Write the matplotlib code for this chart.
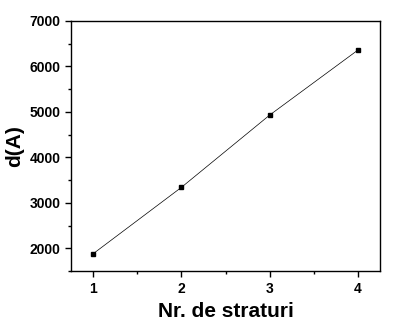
import matplotlib
matplotlib.use("Agg")
import matplotlib.pyplot as plt
from matplotlib.ticker import MultipleLocator

# layers vs thickness
layers = [1, 2, 3, 4]
thickness = [1880, 3340, 4930, 6360]

plt.rcParams['font.family'] = ['Liberation Sans', 'DejaVu Sans']

fig = plt.figure(figsize=(4.01, 3.31), dpi=100)
ax = fig.add_axes([0.177, 0.181, 0.771, 0.756])

ax.plot(layers, thickness, color='black', lw=0.5, marker='s', ms=3.5)

ax.set_xlim(0.75, 4.25)
ax.set_ylim(1500, 7000)
ax.xaxis.set_major_locator(MultipleLocator(1))
ax.xaxis.set_minor_locator(MultipleLocator(0.5))
ax.yaxis.set_major_locator(MultipleLocator(1000))
ax.yaxis.set_minor_locator(MultipleLocator(500))
ax.tick_params(which='major', direction='out', length=4, width=1, labelsize=10)
ax.tick_params(which='minor', direction='out', length=2, width=1)
for lbl in ax.get_xticklabels() + ax.get_yticklabels():
    lbl.set_fontweight('heavy')
for s in ax.spines.values():
    s.set_linewidth(1)

ax.set_xlabel('Nr. de straturi', fontsize=15, fontweight='heavy', labelpad=5)
ax.set_ylabel('d(A)', fontsize=15, fontweight='heavy', labelpad=4)

fig.savefig('out.png', dpi=100)
